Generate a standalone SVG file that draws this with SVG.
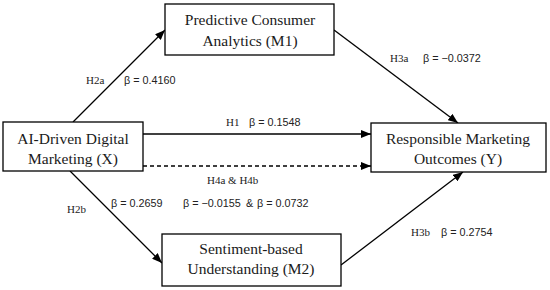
<svg xmlns="http://www.w3.org/2000/svg" width="550" height="290" viewBox="0 0 550 290">
<defs>
<marker id="arr" viewBox="0 0 10 8" refX="10" refY="4" markerWidth="10" markerHeight="8" markerUnits="userSpaceOnUse" orient="auto">
<path d="M0,0 L10,4 L0,8 z" fill="#000"/>
</marker>
<style>
.box{fill:#fff;stroke:#000;stroke-width:1.3}
.nt{font-family:"Liberation Serif","Times New Roman",serif;font-size:15.5px;fill:#1a1a1a;text-anchor:middle}
.hl{font-family:"Liberation Serif","Times New Roman",serif;font-size:11px;fill:#222}
.bl{font-family:"Liberation Sans",Arial,sans-serif;font-size:10.8px;fill:#222}
.ln{stroke:#000;stroke-width:1.3;fill:none;marker-end:url(#arr)}
.dash{stroke-dasharray:4 3}
</style>
</defs>
<rect width="550" height="290" fill="#fff"/>
<g id="connectors">
<line class="ln" x1="73" y1="122" x2="165" y2="30"/>
<line class="ln" x1="334" y1="30" x2="458" y2="123"/>
<line class="ln" x1="143" y1="134" x2="371" y2="134"/>
<line class="ln dash" x1="143" y1="166" x2="371" y2="166"/>
<line class="ln" x1="70" y1="171" x2="162" y2="263"/>
<line class="ln" x1="341" y1="265" x2="463" y2="172"/>
</g>
<g id="node-m1">
<rect class="box" x="165" y="4" width="169" height="51"/>
<text class="nt" x="250" y="25">Predictive Consumer</text>
<text class="nt" x="250" y="46">Analytics (M1)</text>
</g>
<g id="node-x">
<rect class="box" x="3" y="122" width="140" height="49"/>
<text class="nt" x="73" y="144">AI-Driven Digital</text>
<text class="nt" x="73" y="164">Marketing (X)</text>
</g>
<g id="node-y">
<rect class="box" x="371" y="123" width="175" height="49"/>
<text class="nt" x="458" y="144">Responsible Marketing</text>
<text class="nt" x="458" y="164">Outcomes (Y)</text>
</g>
<g id="node-m2">
<rect class="box" x="162" y="234" width="179" height="52"/>
<text class="nt" x="251" y="254">Sentiment-based</text>
<text class="nt" x="251" y="274">Understanding (M2)</text>
</g>
<g id="labels">
<text class="hl" x="86" y="84">H2a</text>
<text class="bl" x="124" y="84">β = 0.4160</text>
<text class="hl" x="226" y="126">H1</text>
<text class="bl" x="249" y="126">β = 0.1548</text>
<text class="hl" x="390" y="62">H3a</text>
<text class="bl" x="423" y="62">β = −0.0372</text>
<text class="hl" x="207" y="184">H4a &amp; H4b</text>
<text class="hl" x="67" y="213">H2b</text>
<text class="bl" x="111" y="207">β = 0.2659</text>
<text class="bl" x="183" y="207">β = −0.0155</text>
<text class="bl" x="246" y="207">&amp;</text>
<text class="bl" x="257" y="207">β = 0.0732</text>
<text class="hl" x="411" y="236">H3b</text>
<text class="bl" x="441" y="236">β = 0.2754</text>
</g>
</svg>
